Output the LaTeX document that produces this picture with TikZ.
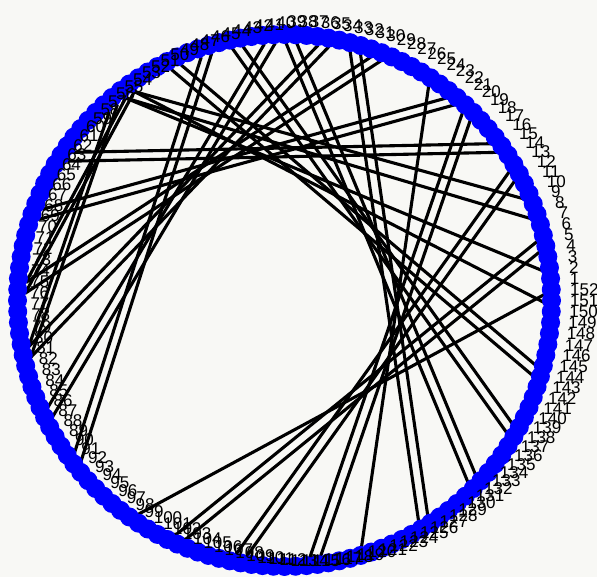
\documentclass[tikz,border=0pt]{standalone}
\usepackage{fontspec}
\setmainfont{Liberation Sans}
\definecolor{bgc}{RGB}{248,248,245}
\definecolor{nodeblue}{RGB}{0,0,255}
\begin{document}
\begin{tikzpicture}[x=1pt,y=1pt,
  edge/.style={line width=3.1pt,black},
  dot/.style={circle,fill=nodeblue,draw=none,minimum size=19pt,inner sep=0pt},
  lab/.style={anchor=south west,inner sep=0pt,font=\fontsize{17}{17}\selectfont}]
\fill[bgc] (0,0) rectangle (597,577);
\useasboundingbox (0,0) rectangle (597,577);
\foreach \k [evaluate=\k as \ang using {(\k-1)*2.3684211}] in {1,...,152}{
  \coordinate (e\k) at ([shift={(286,273)}] \ang:261);
}
\foreach \a/\b in {100/2,104/7,105/6,110/14,111/13,117/21,118/20,122/25,128/33,129/32,
  134/39,135/38,140/44,141/43,146/50,147/49,
  92/47,93/46,87/41,88/40,81/36,82/35,75/31,76/30,68/23,69/22,62/17,63/16,
  1/54,4/55,9/55,11/54,75/55,76/54,81/57,82/56}{
  \draw[edge] (e\a) -- (e\b);
}
\foreach \k [evaluate=\k as \ang using {(\k-1)*2.3684211}] in {1,...,152}{
  \node[dot] (n\k) at ([shift={(284.5,276.5)}] \ang:267 and 266) {};
}
\foreach \k [evaluate=\k as \ang using {(\k-1)*2.3684211+2.7}] in {1,...,152}{
  \node[lab] (l\k) at ([shift={(300,279.5)}] \ang:270 and 269.5) {\k};
}
\end{tikzpicture}
\end{document}
